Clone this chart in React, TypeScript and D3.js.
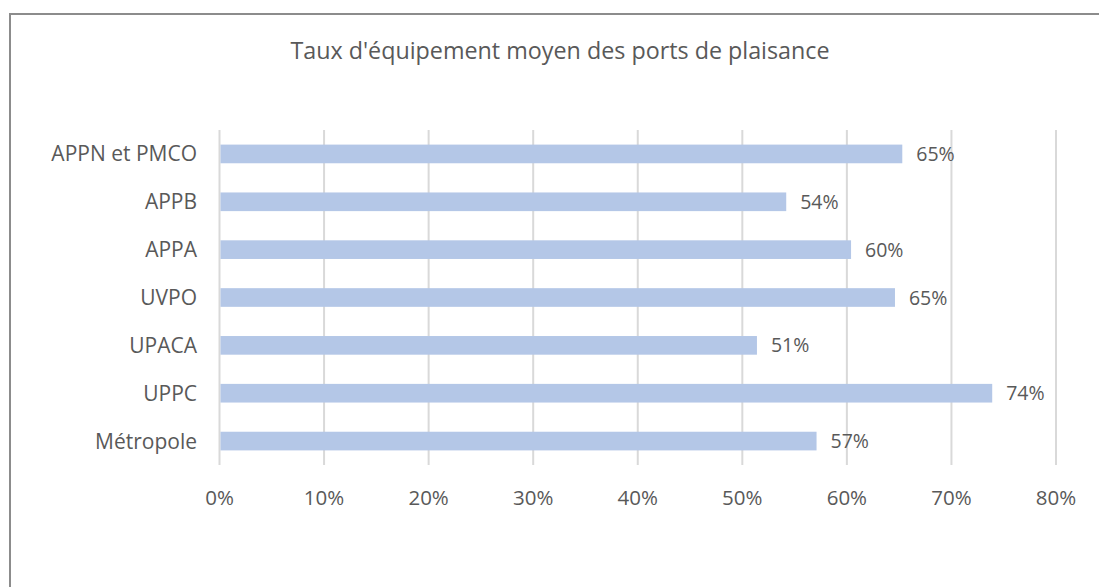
import React, { useRef, useEffect } from 'react';
import * as d3 from 'd3';

const categories = ['APPN et PMCO', 'APPB', 'APPA', 'UVPO', 'UPACA', 'UPPC', 'Métropole'];
const rates = [0.653, 0.542, 0.604, 0.646, 0.514, 0.739, 0.571];
const ticks = [0, 0.1, 0.2, 0.3, 0.4, 0.5, 0.6, 0.7, 0.8];
const title = "Taux d'équipement moyen des ports de plaisance";

const W = 1099;
const H = 587;
const FONT = '"Open Sans", sans-serif';
const TEXT = '#595959';

const App: React.FC = () => {
  const ref = useRef<SVGSVGElement>(null);

  useEffect(() => {
    const svg = d3.select(ref.current);
    svg.selectAll('*').remove();

    const margin = { top: 130, left: 219.5, right: 1056, bottom: 465 };

    const x = d3.scaleLinear().domain([0, 0.8]).range([margin.left, margin.right]);
    const y = d3.scaleBand()
      .domain(categories)
      .range([margin.top, margin.bottom])
      .paddingInner(0.61)
      .paddingOuter(0.305);

    // frame
    svg.append('rect')
      .attr('x', 10).attr('y', 14)
      .attr('width', W + 20).attr('height', H + 20)
      .attr('fill', '#fff')
      .attr('stroke', '#8c8c8c')
      .attr('stroke-width', 2);

    svg.append('text')
      .attr('x', 560).attr('y', 59)
      .attr('text-anchor', 'middle')
      .attr('font-family', FONT)
      .attr('font-size', 23.3)
      .attr('fill', TEXT)
      .text(title);

    // gridlines
    svg.append('g')
      .selectAll('line')
      .data(ticks)
      .enter().append('line')
        .attr('x1', d => x(d)).attr('x2', d => x(d))
        .attr('y1', margin.top).attr('y2', margin.bottom)
        .attr('stroke', '#d9d9d9')
        .attr('stroke-width', 2);

    // tick labels
    svg.append('g')
      .selectAll('text')
      .data(ticks)
      .enter().append('text')
        .attr('x', d => x(d))
        .attr('y', 504.5)
        .attr('text-anchor', 'middle')
        .attr('font-family', FONT)
        .attr('font-size', 20.5)
        .attr('fill', TEXT)
        .text(d => d3.format('.0%')(d));

    // bars
    svg.append('g')
      .attr('fill', '#b4c7e7')
      .selectAll('rect')
      .data(categories)
      .enter().append('rect')
        .attr('x', x(0) + 1)
        .attr('y', d => y(d) as number)
        .attr('width', (d, i) => x(rates[i]) - x(0) - 1)
        .attr('height', y.bandwidth());

    // category labels
    svg.append('g')
      .selectAll('text')
      .data(categories)
      .enter().append('text')
        .attr('x', 197)
        .attr('y', d => (y(d) as number) + y.bandwidth() / 2)
        .attr('dy', '0.36em')
        .attr('text-anchor', 'end')
        .attr('font-family', FONT)
        .attr('font-size', 21)
        .attr('fill', TEXT)
        .text(d => d);

    // value labels
    svg.append('g')
      .selectAll('text')
      .data(categories)
      .enter().append('text')
        .attr('x', (d, i) => x(rates[i]) + 14)
        .attr('y', d => (y(d) as number) + y.bandwidth() / 2)
        .attr('dy', '0.36em')
        .attr('font-family', FONT)
        .attr('font-size', 19.5)
        .attr('fill', TEXT)
        .text((d, i) => d3.format('.0%')(rates[i]));
  }, []);

  return (
    <svg
      ref={ref}
      width={W}
      height={H}
      style={{ position: 'absolute', left: 0, top: 0, background: '#fff' }}
    />
  );
};

export default App;
